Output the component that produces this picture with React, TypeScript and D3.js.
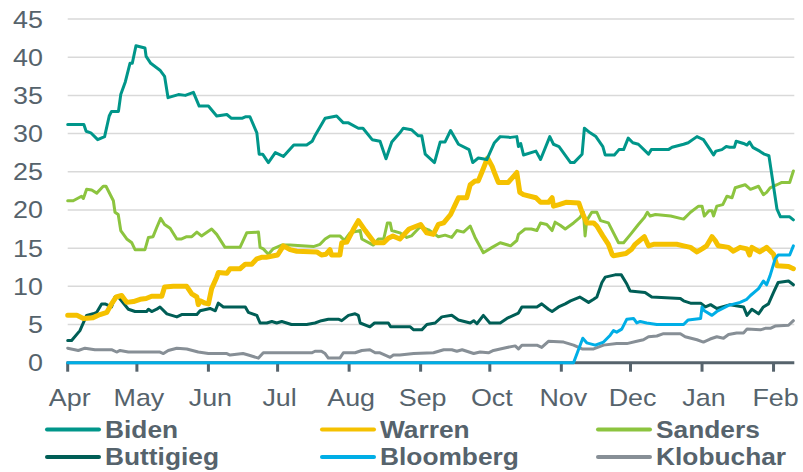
import React from "react";
import * as d3 from "d3";

// days since 2019-04-01, poll average (%)
const biden: [number, number][] = [
  [0, 31.2], [7, 31.2], [8, 30.3], [10, 30.1], [13, 29.2], [16, 29.6], [18, 32.3], [19, 32.9], [22, 32.9],
  [23, 35.1], [25, 36.8], [27, 39.2], [28, 39.2], [29.6, 41.5], [33.5, 41.2], [34, 40.1], [36, 39.2],
  [40, 38.3], [42, 37.5], [43.5, 34.7], [48, 35.1], [51, 35], [54.5, 35.4], [57, 33.6], [61, 33.6],
  [64.6, 32.3], [69, 32.5], [71, 32], [75.5, 32], [77, 32.2], [79, 32.2], [82, 30.1], [83, 27.3],
  [84.5, 27.3], [87, 26.2], [90, 27.5], [93.5, 27], [98, 28.5], [103.6, 28.5], [106, 29], [107, 29.6],
  [111.6, 32], [116.6, 32.3], [119.5, 31.4], [121.7, 31.4], [126, 30.7], [128, 30.7], [132, 29.2],
  [135.4, 29], [138, 26.7], [140.5, 28.9], [144, 30.1], [145.5, 30.7], [149, 30.5], [152, 29.7],
  [153.5, 29.7], [155, 27.3], [159, 26.2], [161.5, 28.9], [163.6, 28.9], [166, 30.4], [169.4, 28.6],
  [174, 27.9], [175.6, 26.2], [178, 26.8], [181.7, 26.6], [185, 28.8], [187.5, 29.6], [192, 29.5],
  [194.7, 29.6], [195.4, 28.3], [196.4, 28.7], [197.6, 27.2], [203, 27.7], [205, 26.6], [209, 29.6],
  [210.6, 28.6], [213, 28.3], [218, 26.2], [219.5, 26.2], [223, 27.3], [224, 30.7], [226.5, 30.1],
  [229, 29.6], [232, 28.3], [233, 27.2], [237, 27.2], [239, 27.9], [241, 27.9], [243, 29.4], [245, 28.8],
  [247.4, 28.6], [251.8, 27.3], [253, 27.9], [260.4, 27.9], [262, 28.2], [267, 28.6], [269, 28.8],
  [272.8, 29.6], [275.6, 29.2], [278.5, 27.9], [280, 27.2], [281, 27.7], [283.6, 27.9], [285.5, 28.3],
  [287, 28.2], [289, 28.2], [289.8, 29], [293, 28.7], [294.5, 28.5], [295.6, 28.9], [297, 28.2],
  [300, 27.7], [302, 27.3], [304, 27.1], [307.5, 20.1], [309, 19.1], [313, 19.1], [314.6, 18.7],
];

const warren: [number, number][] = [
  [0, 6.2], [4, 6.2], [6.8, 5.8], [11, 5.9], [14, 6.3], [17, 6.6], [19, 7.7], [21, 8.6], [23.4, 8.8],
  [25.6, 7.9], [28.5, 8], [31.4, 8.3], [34, 8.4], [36.4, 8.7], [40.8, 8.7], [42, 9.9], [45.8, 10],
  [51.6, 10], [53.8, 9], [56, 8.6], [56.6, 7.6], [57.4, 8.1], [59.5, 7.8], [61, 7.7], [62.4, 9.7],
  [64.6, 11.2], [65.3, 11.8], [69, 11.7], [70.4, 12.3], [74.7, 12.3], [77, 12.9], [79.8, 12.9],
  [82, 13.6], [84, 13.8], [86, 13.8], [87.7, 13.9], [91, 14.1], [93.5, 15.3], [96.4, 14.8], [99.3, 14.6],
  [108, 14.5], [110, 14.1], [112, 14.2], [113.7, 14.8], [114.4, 14.1], [118, 14.1], [118.8, 15.7],
  [121, 15.8], [123.9, 17.5], [126, 18.6], [129, 17.3], [133, 15.7], [137, 15.7], [139, 16.3],
  [141, 16.6], [144, 16.2], [148, 17.5], [153, 18.1], [155.6, 17], [158.5, 16.8], [160.7, 18.1],
  [163, 18.3], [166, 19.4], [168, 20.7], [169.4, 21.6], [173, 21.6], [174.5, 23.3], [176.6, 23.8],
  [178, 23.8], [179.5, 24.9], [182, 26.8], [184, 25.7], [185, 24.9], [186.7, 23.6], [191, 23.6],
  [194.7, 24.9], [196, 22.3], [197.6, 22], [203, 21.6], [205, 21], [208.4, 21], [210, 21.6],
  [210.6, 20.5], [213, 20.7], [216, 21], [221.6, 20.9], [223, 19.7], [225, 18.3], [228, 18.3],
  [229.4, 17.9], [232, 16.6], [234.4, 15.5], [236, 14.2], [236.6, 14], [242, 14.3], [244.6, 14.9],
  [246, 15.5], [248, 16], [250, 16.5], [251.8, 15.3], [254, 15.5], [264, 15.5], [267, 15.3], [270, 15.1],
  [272.8, 14.5], [275, 14.9], [277, 15.3], [279.3, 16.5], [280.7, 16], [282, 15.3], [286.5, 15.1],
  [288.6, 14.6], [291.5, 15.1], [294.5, 14.9], [295.6, 14.1], [296.6, 15.1], [300, 14.5], [303, 15.1],
  [306, 14.2], [307.5, 12.7], [312.5, 12.6], [314.6, 12.3],
];

const sanders: [number, number][] = [
  [0, 21.2], [2.4, 21.2], [6, 21.8], [6.8, 21.5], [8.2, 22.7], [10.4, 22.6], [12.6, 22.2], [15.4, 23.1],
  [16.6, 23.1], [19.8, 21.2], [20.5, 19.7], [21.9, 19.4], [23, 17.3], [25.6, 16.2], [27.8, 15.7],
  [29.2, 14.8], [33.5, 14.8], [35, 16.4], [37, 16.5], [38.6, 17.7], [40.3, 18.9], [42, 18.1],
  [44.4, 17.6], [47.3, 16.2], [49.4, 16.2], [51.6, 16.5], [53.8, 16.5], [56, 17.1], [58, 16.6],
  [62.4, 17.5], [64.6, 16.8], [68.2, 15.1], [74.7, 15.1], [77.6, 17], [82.7, 17.1], [83.4, 15.1],
  [84.8, 14.9], [87, 14.2], [89, 14.9], [92.8, 15.4], [96.4, 15.4], [106.5, 15.2], [109.4, 15.5],
  [111.6, 16.2], [113.7, 16.6], [118, 16.6], [120, 16], [122.4, 17], [126.8, 17.3], [127.5, 16.2],
  [132.5, 15.4], [134.7, 16.2], [137, 16.2], [138.6, 18.3], [139.8, 18.3], [140.5, 17.3], [144, 17],
  [147, 16.4], [149, 16.6], [152.8, 17.8], [156.4, 17.4], [160.7, 16.5], [163.6, 16.7], [166.5, 16.4],
  [168.7, 17.3], [171.6, 17.1], [174.5, 17.9], [176.6, 16.4], [180.2, 14.4], [184, 15.1], [187.5, 15.7],
  [192, 15.3], [194.7, 16], [195.4, 16.8], [198.3, 17.5], [201, 17.5], [203.4, 17.3], [205, 18.3],
  [207.7, 18.1], [210, 17.3], [211.3, 18.4], [213.5, 18], [215.7, 17.5], [219.3, 18.3], [222, 19],
  [223.6, 19.7], [224.3, 16.6], [225, 18.6], [227.2, 19.7], [229.4, 19.7], [231, 18.6], [234.4, 18.3],
  [238.8, 15.7], [241, 15.7], [244, 16.8], [247.4, 18.1], [250, 19], [251.3, 19.7], [252.5, 19.2],
  [254.8, 19.4], [261.4, 19.2], [265.6, 18.9], [267, 18.8], [270, 19.7], [273.5, 20.5], [275, 20.5],
  [276, 19.2], [278, 19.9], [279.3, 19.9], [280, 19.2], [281.4, 20.5], [284, 20.7], [285.8, 21.8],
  [288, 21.6], [289.4, 22.9], [291.5, 23.1], [293.7, 23.3], [296, 22.7], [299.5, 23.1], [301.6, 22],
  [303, 22.3], [304.5, 22.9], [307.5, 23.3], [309.6, 23.6], [313, 23.6], [314.6, 25.1],
];

const buttigieg: [number, number][] = [
  [0, 2.9], [1.7, 2.9], [5.3, 4.2], [8.2, 6.2], [11, 6.4], [12.6, 6.6], [14.7, 7.7], [16.2, 7.7],
  [19, 7.3], [20.5, 8.6], [22, 8.6], [26.3, 7], [29.2, 6.7], [34.2, 6.7], [35, 7], [36.4, 6.7],
  [38.6, 7], [40, 7.3], [43, 6.4], [47.3, 6], [49.4, 6.3], [56, 6.3], [57.4, 6.8], [61.7, 7.1],
  [64, 6.8], [65.3, 7.8], [67.5, 7.3], [77, 7.3], [78.3, 6.6], [82, 6.2], [83.4, 5.2], [86.3, 5.2],
  [88.5, 5.4], [90.6, 5.2], [92.8, 5.4], [97, 5], [103.6, 5], [107.2, 5.2], [110, 5.5], [113, 5.7],
  [117.3, 5.7], [118.8, 5.5], [121.7, 6.2], [124.6, 6.4], [126, 6.2], [126.8, 5.2], [131, 4.7],
  [133, 5.2], [139, 5.2], [140, 4.7], [148.5, 4.7], [150, 4.3], [153.5, 4.3], [155.7, 5], [159.3, 5.2],
  [162.2, 6], [166.5, 6.2], [169.4, 5.6], [174.5, 5.2], [176, 5.5], [177.4, 5.1], [180.2, 6.2],
  [183, 5.2], [187.5, 5.2], [190.4, 5.8], [195.4, 6.5], [196.9, 7.3], [203.4, 7.3], [205.5, 7.7],
  [208.4, 7], [210, 6.7], [212.8, 7.3], [215.7, 7.7], [218, 8.1], [222, 8.6], [225.8, 7.9], [228, 8.3],
  [229.4, 8.6], [231.6, 10.5], [233, 11.2], [237.3, 11.5], [240, 11.5], [242.4, 10.3], [243.8, 9.4],
  [250.3, 9.2], [253.2, 8.6], [265.6, 8.4], [267, 8.1], [270, 7.8], [274.4, 7.8], [276.5, 7.3],
  [278.7, 7.6], [281.4, 7.1], [287.2, 7.6], [293, 7.3], [294.5, 6.2], [296.6, 7], [299.5, 6.4],
  [301.6, 7.3], [303.8, 7.7], [306, 9.2], [308, 10.5], [312.5, 10.7], [314.6, 10.2],
];

const bloomberg: [number, number][] = [
  [0, 0], [219.3, 0], [223.3, 3.2], [225, 2.6], [228.7, 2.3], [232.3, 2.7], [235.2, 3.6], [236.6, 4.2],
  [238, 4], [240.2, 4.4], [242.4, 5.7], [245.3, 5.8], [246.7, 5.2], [248.2, 5.4], [251, 5.2],
  [255.4, 5], [267, 5], [269, 5.6], [274.4, 5.8], [275, 7.3], [276, 6.8], [279.3, 6.2], [281.4, 6.7],
  [286.5, 7.5], [291.5, 7.9], [294.4, 8.3], [296, 8.8], [299.5, 9.7], [301.6, 10.7], [303, 10.2],
  [304.5, 11.4], [306.7, 13.6], [308, 14.1], [313, 14.1], [314.6, 15.3],
];

const klobuchar: [number, number][] = [
  [0, 1.9], [4.6, 1.6], [7.5, 1.9], [11.8, 1.7], [19, 1.7], [21.2, 1.4], [22.7, 1.6], [26.3, 1.4],
  [40, 1.4], [41.5, 1.2], [43.6, 1.6], [47.3, 1.9], [51.6, 1.8], [56.6, 1.4], [61, 1.2], [69, 1.2],
  [70.4, 1], [76, 1.2], [78.3, 1], [82.7, 0.6], [84.8, 1.3], [105.8, 1.3], [107.2, 1.5], [110, 1.5],
  [111.6, 1.2], [113, 0.6], [118, 0.6], [119.5, 1.3], [124.6, 1.3], [127.5, 1.6], [131, 1.7],
  [133.3, 1.3], [135.4, 1.3], [139.8, 0.7], [141.2, 1], [144, 1], [150, 1.2], [158.6, 1.3], [163, 1.7],
  [166.5, 1.7], [168.7, 1.5], [171, 1.7], [176, 1.2], [178.8, 1.4], [182.4, 1.3], [184.6, 1.6],
  [190.4, 2], [194, 2.2], [195.4, 1.8], [196.9, 2.3], [203.4, 2.3], [205.5, 2], [208.4, 2.8],
  [215, 2.7], [219.3, 2.3], [223, 1.8], [228, 1.8], [232.3, 2.3], [238, 2.5], [242.4, 2.5],
  [246.7, 2.8], [249.6, 3], [251.8, 3.4], [255.4, 3.5], [258.3, 3.8], [265.6, 3.8], [267.7, 3.4],
  [272.8, 3], [275.6, 2.7], [278.5, 3.1], [281.4, 3.4], [284.3, 3.2], [286.5, 3.7], [290, 3.9],
  [293, 3.9], [294.5, 4.4], [300.3, 4.3], [302.4, 4.5], [304.6, 4.5], [306.7, 4.8], [312.5, 4.9],
  [314.6, 5.5],
];

const yTicks = [0, 5, 10, 15, 20, 25, 30, 35, 40, 45];

const series = [
  { name: "Biden", data: biden, color: "#00968a", width: 3 },
  { name: "Warren", data: warren, color: "#f5c100", width: 5 },
  { name: "Sanders", data: sanders, color: "#8cc43f", width: 3 },
  { name: "Buttigieg", data: buttigieg, color: "#005e56", width: 3 },
  { name: "Bloomberg", data: bloomberg, color: "#00aee6", width: 3 },
  { name: "Klobuchar", data: klobuchar, color: "#878f96", width: 3 },
];

// drawing order (back to front)
const drawOrder = ["Klobuchar", "Buttigieg", "Sanders", "Warren", "Biden", "Bloomberg"];

const START = new Date(2019, 3, 1);
const END = new Date(2020, 1, 10);
const TEXT = "#56636c";
const FONT = "'Liberation Sans', Arial, sans-serif";
const STRETCH = 1.12;

export default function App() {
  const W = 803;
  const H = 472;
  const x = d3.scaleTime().domain([START, END]).range([67.7, 794.3]);
  const y = d3.scaleLinear().domain([0, 45]).range([362.7, 19]);
  const toDate = (d: number) => new Date(START.getTime() + d * 864e5);

  const line = d3
    .line<[number, number]>()
    .x((d) => x(toDate(d[0])))
    .y((d) => y(d[1]));

  const months = d3.timeMonth.range(START, new Date(2020, 1, 2));
  const fmt = d3.timeFormat("%b");

  const legendCols = [47, 322, 598];
  const legendRows = [429.5, 457];

  return (
    <svg
      width={W}
      height={H}
      style={{ position: "absolute", left: 0, top: 0, background: "#fff" }}
      fontFamily={FONT}
    >
      {yTicks.map((t) => (
        <g key={t}>
          {t > 0 && (
            <line x1={67.7} x2={794.3} y1={y(t)} y2={y(t)} stroke="#d9d9d9" strokeWidth={1.5} />
          )}
          <text
            transform={`translate(43,${y(t) + 8.5}) scale(${STRETCH},1)`}
            textAnchor="end"
            fontSize={24}
            fill={TEXT}
          >
            {t}
          </text>
        </g>
      ))}

      <line x1={66.5} x2={794.3} y1={y(0)} y2={y(0)} stroke="#56636c" strokeWidth={3} />
      {months.map((m) => (
        <g key={m.getTime()}>
          <line x1={x(m)} x2={x(m)} y1={y(0)} y2={y(0) + 9} stroke="#56636c" strokeWidth={3} />
          <text
            transform={`translate(${x(m) + 2},${405.5}) scale(${STRETCH},1)`}
            textAnchor="middle"
            fontSize={24}
            fill={TEXT}
          >
            {fmt(m)}
          </text>
        </g>
      ))}

      {drawOrder.map((n) => {
        const s = series.find((q) => q.name === n)!;
        return (
          <path
            key={n}
            d={line(s.data) || ""}
            fill="none"
            stroke={s.color}
            strokeWidth={s.width}
            strokeLinejoin="round"
            strokeLinecap="round"
          />
        );
      })}

      {series.map((s, i) => {
        const cx = legendCols[i % 3];
        const cy = legendRows[Math.floor(i / 3)];
        return (
          <g key={s.name}>
            <line x1={cx} x2={cx + 52} y1={cy} y2={cy} stroke={s.color} strokeWidth={4} strokeLinecap="round" />
            <text
              transform={`translate(${cx + 58},${cy + 8}) scale(${STRETCH},1)`}
              fontSize={23.5}
              fontWeight="bold"
              fill={TEXT}
            >
              {s.name}
            </text>
          </g>
        );
      })}
    </svg>
  );
}
